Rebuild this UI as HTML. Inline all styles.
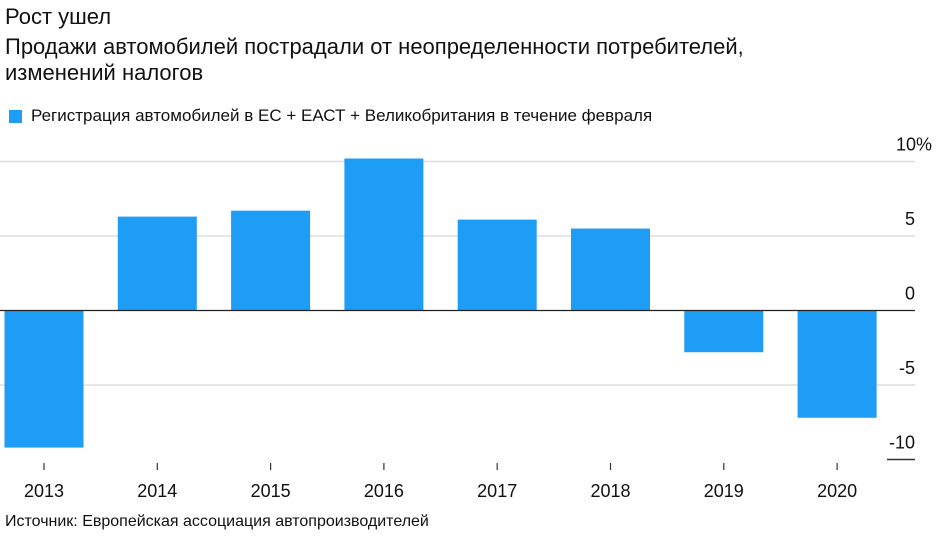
<!DOCTYPE html>
<html><head><meta charset="utf-8"><style>
body{margin:0;background:#fff;font-family:"Liberation Sans",sans-serif;color:#111;}
#wrap{position:relative;width:936px;height:537px;overflow:hidden;}
.t{position:absolute;left:5px;font-size:22px;line-height:26px;}
</style></head><body>
<div id="wrap">
<div class="t" style="top:4px">Рост ушел</div>
<div class="t" style="top:34px">Продажи автомобилей пострадали от неопределенности потребителей,<br>изменений налогов</div>
<div style="position:absolute;left:9px;top:106px;font-size:17px;display:flex;align-items:center"><span style="display:inline-block;width:13px;height:13px;background:#1e9df6;margin-right:9px"></span>Регистрация автомобилей в ЕС + ЕАСТ + Великобритания в течение февраля</div>
<div style="position:absolute;left:5px;top:513px;font-size:16px">Источник: Европейская ассоциация автопроизводителей</div>
<svg id="chart" width="936" height="537" style="position:absolute;left:0;top:0"></svg>
</div>
<script>
const categories=["2013","2014","2015","2016","2017","2018","2019","2020"];
const values=[-9.2,6.3,6.7,10.2,6.1,5.5,-2.8,-7.2];
const ticks=[10,5,0,-5,-10];
const tickLabels=["10%","5","0","-5","-10"];
const NS="http://www.w3.org/2000/svg";
const svg=document.getElementById('chart');
const zeroY=310.5,pxPer=14.9;
function y(v){return zeroY-v*pxPer;}
function xc(i){return 44+i*113.3;}
function mk(t,a){const e=document.createElementNS(NS,t);for(const k in a)e.setAttribute(k,a[k]);svg.appendChild(e);return e;}
ticks.forEach((t,i)=>{
  let l;
  if(t===-10) l=mk('line',{x1:887,x2:915,y1:y(t),y2:y(t),stroke:'#333','stroke-width':1.5});
  else if(t!==0) l=mk('line',{x1:0,x2:915,y1:y(t),y2:y(t),stroke:'#ddd','stroke-width':1.5});
  if(l){}
  const tx=mk('text',{x:915,y:y(t)-11,'text-anchor':'end','font-size':18,fill:'#111'});
  tx.textContent=tickLabels[i];
  if(i===0)tx.setAttribute('x',932);
  
  
});
values.forEach((v,i)=>{
  const r=mk('rect',{x:xc(i)-39.5,width:79,y:Math.min(y(v),zeroY),height:Math.abs(y(v)-zeroY),fill:'#1e9df6'});
  
  
  const tk=mk('line',{x1:xc(i),x2:xc(i),y1:463,y2:470,stroke:'#333','stroke-width':1.2});
  
  
  const tx=mk('text',{x:xc(i),y:497,'text-anchor':'middle','font-size':18,fill:'#111'});
  tx.textContent=categories[i];
  
  
});
const z=mk('line',{x1:0,x2:915,y1:zeroY,y2:zeroY,stroke:'#222','stroke-width':1.2});


</script>
</body></html>
